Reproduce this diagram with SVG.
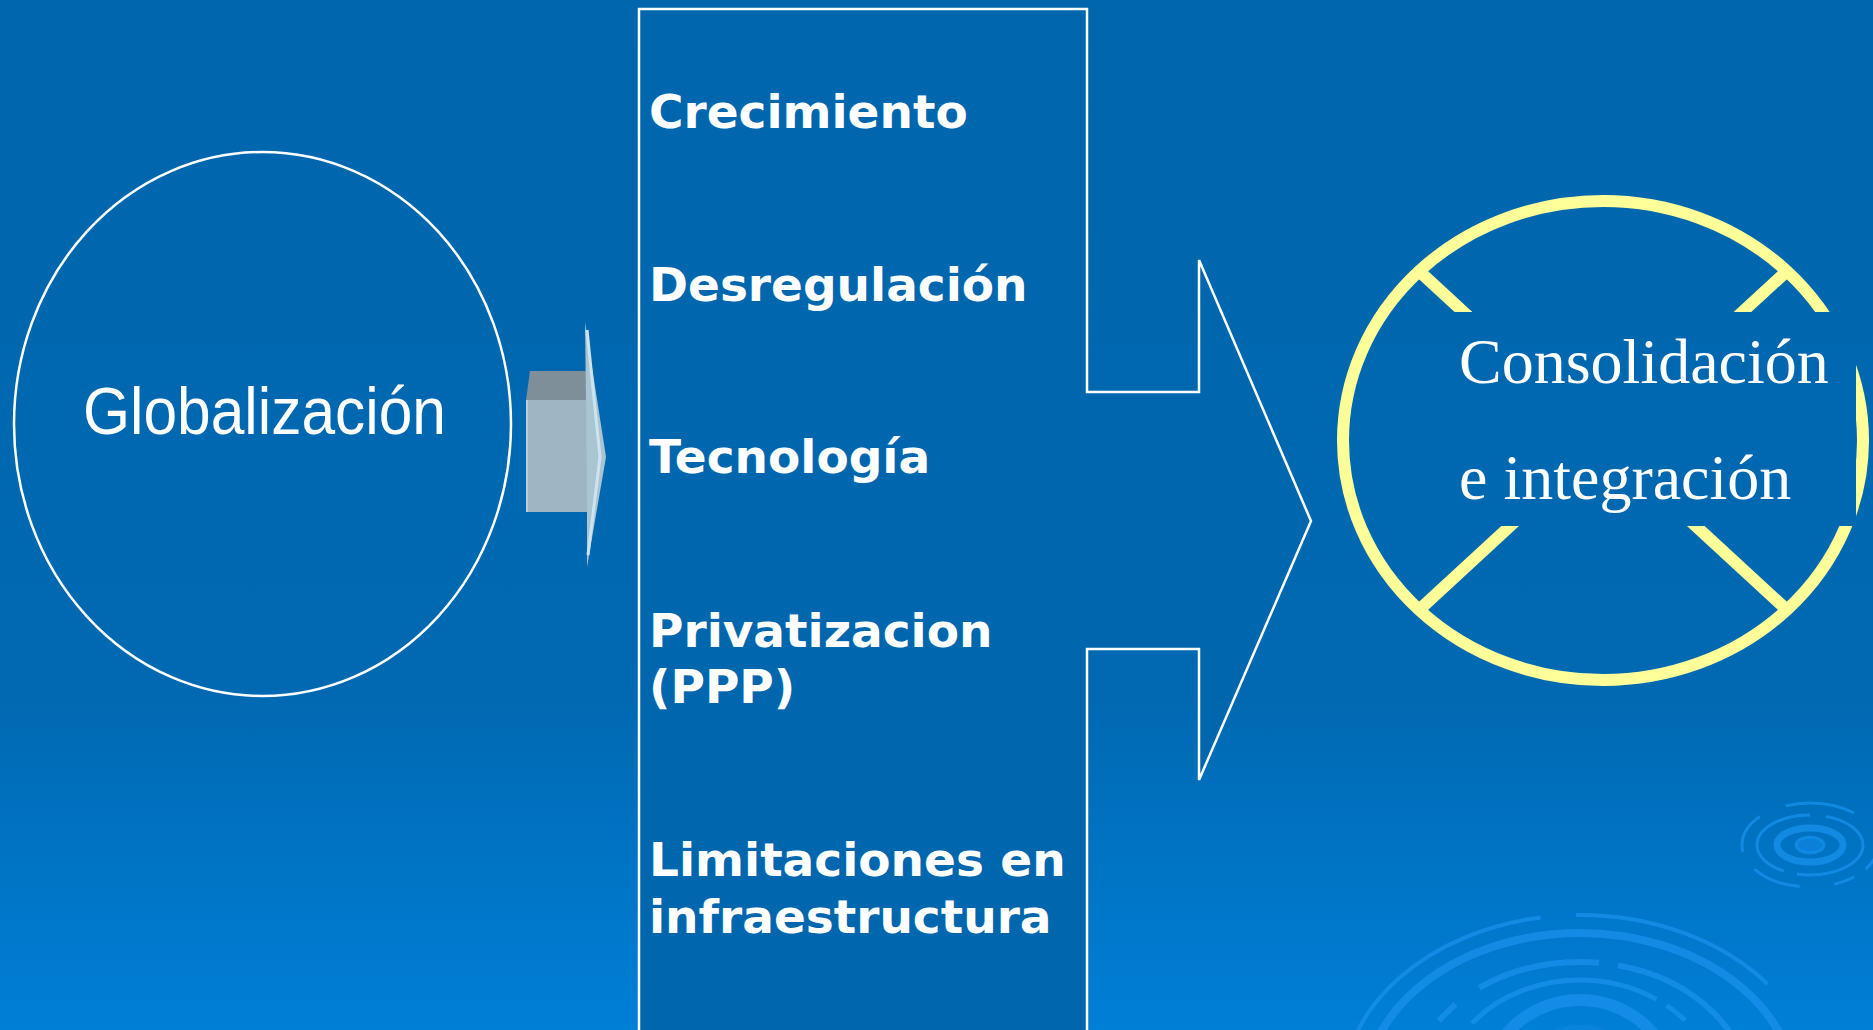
<svg xmlns="http://www.w3.org/2000/svg" width="1873" height="1030" viewBox="0 0 1873 1030">
  <defs>
    <linearGradient id="bg" x1="0" y1="0" x2="0" y2="1">
      <stop offset="0" stop-color="#0066ad"/>
      <stop offset="0.68" stop-color="#0069b2"/>
      <stop offset="1" stop-color="#007fd7"/>
    </linearGradient>
    <radialGradient id="ripcore" cx="0.5" cy="0.5" r="0.5">
      <stop offset="0" stop-color="#1a93ec"/>
      <stop offset="1" stop-color="#0b84dd"/>
    </radialGradient>
    <mask id="cutbox" maskUnits="userSpaceOnUse" x="0" y="0" width="1873" height="1030">
      <rect x="0" y="0" width="1873" height="1030" fill="#fff"/>
      <rect x="1440" y="312" width="416" height="214" fill="#000"/>
    </mask>
    <style>
      .ripple { fill: none; stroke: #1690ea; stroke-opacity: 0.8; }
      .item { font-family: "DejaVu Sans", Verdana, sans-serif; font-weight: bold; font-size: 47px; fill: #ffffff; }
      .outline { fill: #0067ae; stroke: #ffffff; stroke-width: 2.5; }
      .yellow { fill: none; stroke: #ffff99; stroke-width: 12; }
    </style>
  </defs>

  <rect x="0" y="0" width="1873" height="1030" fill="url(#bg)"/>

  <g id="decoration">
    <!-- big ripple -->
    <ellipse class="ripple" cx="1580" cy="1095" rx="238" ry="180" stroke-width="4" pathLength="100" stroke-dasharray="0 50 22 2.7 15.8 9.5"/>
    <ellipse class="ripple" cx="1580" cy="1095" rx="216" ry="162" stroke-width="8"/>
    <ellipse class="ripple" cx="1580" cy="1095" rx="170" ry="133" stroke-width="6" pathLength="100" stroke-dasharray="0 52 5 1.5 2.5 3 13 2 22"/>
    <ellipse class="ripple" cx="1580" cy="1095" rx="138" ry="115" stroke-width="5" pathLength="100" stroke-dasharray="0 60 25 1.5 3 10.5"/>
    <ellipse class="ripple" cx="1580" cy="1095" rx="96" ry="95" stroke-width="12"/>
    <ellipse cx="1580" cy="1095" rx="70" ry="70" fill="url(#ripcore)" opacity="0.8"/>
    <!-- small ripple -->
    <ellipse class="ripple" cx="1810" cy="845" rx="68" ry="42" stroke-width="3" pathLength="100" stroke-dasharray="8 4 6 10 14 6 12 8 20 12"/>
    <ellipse class="ripple" cx="1810" cy="845" rx="53" ry="30" stroke-width="3" pathLength="100" stroke-dasharray="30 5 40 6 19"/>
    <ellipse class="ripple" cx="1810" cy="845" rx="33" ry="17" stroke-width="7"/>
    <ellipse cx="1810" cy="845" rx="14" ry="8" fill="#0a80d8" stroke="#1690ea" stroke-width="3" stroke-opacity="0.7"/>
  </g>

  <g id="globalizacion">
    <ellipse cx="262.5" cy="424" rx="248.5" ry="272" fill="none" stroke="#ffffff" stroke-width="2.5"/>
    <text x="83" y="434" font-family="'Liberation Sans', Arial, sans-serif" font-size="67" fill="#ffffff" textLength="363" lengthAdjust="spacingAndGlyphs">Globalización</text>
  </g>

  <g id="connectors">
    <g id="arrow-small">
      <polygon points="530,371 587,371 587,400 526,400" fill="#7f8f9a"/>
      <rect x="526" y="400" width="61" height="112" fill="#a0b5c3"/>
      <line x1="527" y1="400" x2="527" y2="512" stroke="#b9ccd8" stroke-width="2"/>
      <polygon points="585,322 606,457 587,567 587,512 586,400" fill="#a9c4d3"/>
      <polyline points="587,330 600,457 588,555" fill="none" stroke="#cfe3ee" stroke-width="3"/>
    </g>
  </g>

  <g id="factores">
    <polygon class="outline" points="639,9 1087,9 1087,392 1199,392 1199,260 1311,521 1199,780 1199,649 1087,649 1087,1040 639,1040"/>
    <text class="item" x="649" y="128">Crecimiento</text>
    <text class="item" x="649" y="301">Desregulación</text>
    <text class="item" x="649" y="473">Tecnología</text>
    <text class="item" x="649" y="647">Privatizacion</text>
    <text class="item" x="649" y="703">(PPP)</text>
    <text class="item" x="649" y="876">Limitaciones en</text>
    <text class="item" x="649" y="933">infraestructura</text>
  </g>

  <g id="consolidacion">
    <g mask="url(#cutbox)">
      <ellipse class="yellow" cx="1603" cy="440.5" rx="260" ry="239.5"/>
      <line class="yellow" x1="1419" y1="271" x2="1787" y2="610"/>
      <line class="yellow" x1="1787" y1="271" x2="1419" y2="610"/>
    </g>
    <text x="1459" y="383" font-family="'Liberation Serif', 'Times New Roman', serif" font-size="64" fill="#ffffff">Consolidación</text>
    <text x="1459" y="499" font-family="'Liberation Serif', 'Times New Roman', serif" font-size="64" fill="#ffffff">e integración</text>
  </g>
</svg>
